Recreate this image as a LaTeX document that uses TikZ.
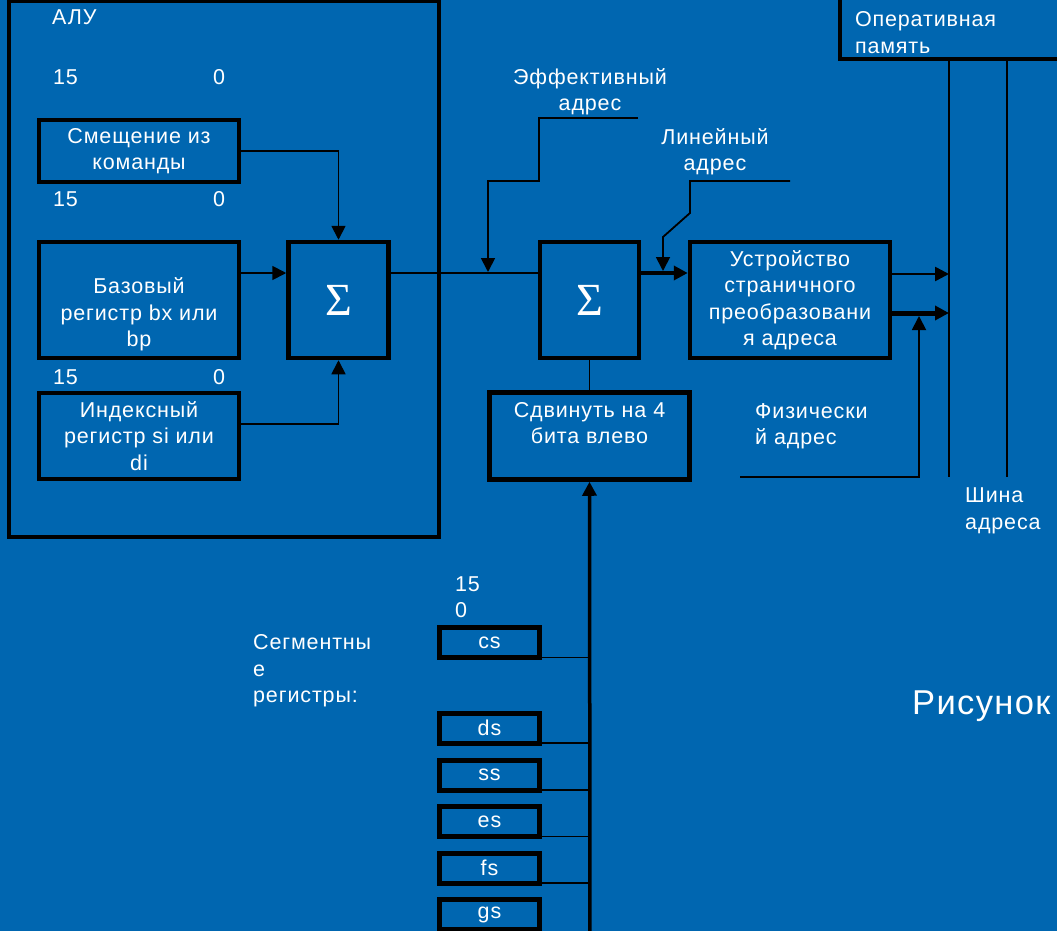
\documentclass[tikz,border=0pt]{standalone}
\usepackage{fontspec}
\setmainfont{Liberation Sans}[LetterSpace=4]
\newfontfamily\sigmaFont{Liberation Serif}
\usetikzlibrary{arrows.meta,positioning,calc}
\definecolor{slideBlue}{HTML}{0066B0}
\newcommand{\txtSize}{\fontsize{21.5}{26.5}\selectfont}
\tikzset{
  regBox/.style={
    draw=black,
    line width=4.5pt,
    text=white,
    align=center,
    font=\txtSize,
    inner sep=0pt
  },
  sumBox/.style={
    regBox,
    minimum width=100pt,
    minimum height=116pt,
    font=\sigmaFont\fontsize{46}{46}\selectfont
  },
  segBox/.style={
    regBox,
    line width=5pt,
    minimum width=100pt,
    minimum height=30pt
  },
  plainText/.style={
    text=white,
    font=\txtSize,
    inner sep=0pt,
    align=left
  },
  wire/.style={
    draw=black,
    line width=1.8pt
  },
  wireArrow/.style={
    wire,
    -{Triangle[length=14pt,width=14pt]}
  },
  heavyArrow/.style={
    wireArrow,
    line width=3.5pt
  }
}

\begin{document}
\begin{tikzpicture}[x=1pt, y=-1pt]
  \useasboundingbox (0,0) rectangle (1057,931);
  \clip (0,0) rectangle (1057,931);
  \fill[slideBlue] (0,0) rectangle (1057,931);

  % ALU frame and its registers
  \node[regBox, line width=4pt, minimum width=430pt, minimum height=536pt] (alu) at (224,269) {};
  \node[plainText, anchor=west] (aluName) at (52,17) {АЛУ};
  \foreach \y in {77,199,377} {
    \node[plainText, anchor=west] (bitHi\y) at (53,\y) {15};
    \node[plainText, anchor=west] (bitLo\y) at (213,\y) {0};
  }
  \node[regBox, minimum width=200pt, minimum height=62pt] (offs) at (139,151) {Смещение из\\команды};
  \node[regBox, minimum width=200pt, minimum height=116pt] (base) at (139,300) {\strut\\Базовый\\регистр bx или\\bp};
  \node[regBox, minimum width=200pt, minimum height=86pt] (index) at (139,436) {Индексный\\регистр si или\\di};
  \node[sumBox] (sumA) at (338.5,300) {Σ};

  % address path
  \node[sumBox, minimum width=99pt] (sumB) at (589.5,300) {Σ};
  \node[regBox, minimum width=200pt, minimum height=116pt] (paging) at (790,300) {Устройство\\страничного\\преобразовани\\я адреса};
  \node[regBox, minimum width=200pt, minimum height=87pt] (shifter) at (589.5,436) {Сдвинуть на 4\\бита влево\\~};
  \node[regBox, minimum width=240pt, minimum height=64pt, text width=210pt, align=left] (ram) at (960,27) {~\\Оперативная\\память};

  \node[plainText, align=center] (effLabel) at (590,92) {Эффективный\\адрес};
  \node[plainText, align=center] (linLabel) at (715,152) {Линейный\\адрес};
  \node[plainText, anchor=west] (physLabel) at (755,426.5) {Физически\\й адрес};
  \node[plainText, anchor=west] (busLabel) at (965,511) {Шина\\адреса};

  % segment registers
  \node[plainText, anchor=west] (segBits) at (455,597) {15\\0};
  \node[plainText, anchor=west] (segLabel) at (253,671) {Сегментны\\е\\регистры:};
  \node[segBox] (cs) at (489.5,642.5) {cs};
  \foreach \n/\y in {ds/728,ss/775,es/821.5,fs/868,gs/914.5} {
    \node[segBox] (\n) at (489.5,\y) {\n};
  }
  \node[plainText, anchor=west, font=\fontsize{34.5}{40}\selectfont] (figLabel) at (912,706) {Рисунок};

  % connectors
  \coordinate (effTail) at (638,118);
  \coordinate (linTail) at (790,181);
  \coordinate (physTail) at (740,477);
  \coordinate (busA) at (949,477);
  \coordinate (busB) at (1007,477);
  \coordinate (outA) at (949,274);
  \coordinate (outB) at (949,313);
  \coordinate (segBus) at (590,940);

  \draw[wireArrow] (offs.east) -| (sumA.north);
  \draw[wireArrow] ([yshift=27pt]base.east) -- ([yshift=27pt]sumA.west);
  \draw[wireArrow] ([yshift=12pt]index.east) -| (sumA.south);
  \draw[wire, line width=1.5pt] ([yshift=27pt]sumA.east) -- ([yshift=27pt]sumB.west);
  \draw[heavyArrow] ([yshift=27pt]sumB.east) -- ([yshift=27pt]paging.west);
  \draw[wire] (sumB.south) -- (shifter.north);

  \draw[wireArrow] (effTail) -- (539,118) -- (539,181) -| (488,272);
  \draw[wireArrow] (linTail) -- (690,181) -- (690,213) -- (663,237) -- (663,271);

  \draw[wireArrow, line width=2.5pt] (outA -| paging.east) -- (outA);
  \draw[heavyArrow, line width=5pt] (outB -| paging.east) -- (outB);
  \draw[wireArrow] (physTail) -| (919,316);
  \draw[wire] (ram.south -| busA) -- (busA);
  \draw[wire] (ram.south -| busB) -- (busB);

  \draw[heavyArrow] (segBus) -- (shifter.south);
  \foreach \n in {cs,ds,ss,es,fs} {
    \draw[wire, line width=1.5pt] ([yshift=2.5pt]\n.south east) -- ([yshift=2.5pt]\n.south east -| segBus);
  }
\end{tikzpicture}
\end{document}
